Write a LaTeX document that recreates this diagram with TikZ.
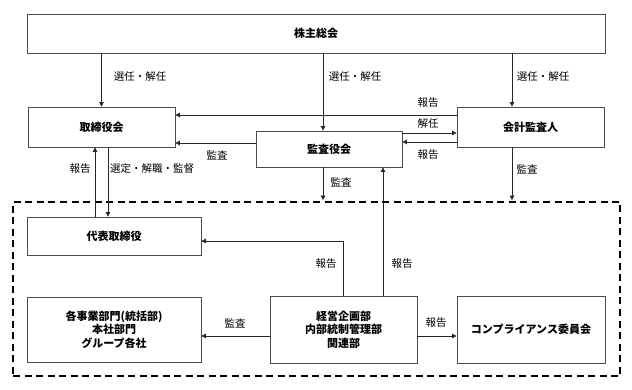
\documentclass[tikz,border=0pt]{standalone}
\usepackage{fontspec}
\setmainfont{Noto Sans CJK JP}
\usetikzlibrary{arrows.meta,calc}
\tikzset{
  box/.style={draw=black!70, line width=0.8pt, inner sep=0pt, align=center,
    font=\fontsize{11}{13.5}\selectfont\bfseries},
  lbl/.style={inner sep=0pt, font=\fontsize{10.5}{12}\selectfont},
  arr/.style={draw=black!85, line width=0.7pt, -{Triangle[length=4.5pt,width=4.5pt]}},
  grpbox/.style={draw=black, line width=1.7pt, dash pattern=on 7pt off 4.5pt, inner sep=0pt}
}
\begin{document}
\begin{tikzpicture}[x=1pt,y=-1pt]
\useasboundingbox (0,0) rectangle (632,390);
% group frame
\node[grpbox, minimum width=607pt, minimum height=174pt] (grp) at (316.5,289) {};
% boxes
\node[box, minimum width=578pt, minimum height=39pt] (top) at (316,33.5) {株主総会};
\node[box, minimum width=147pt, minimum height=40pt] (tor) at (101.5,127) {取締役会};
\node[box, minimum width=146pt, minimum height=36pt] (kan) at (329,149) {監査役会};
\node[box, minimum width=147pt, minimum height=40pt] (kai) at (530.5,127) {会計監査人};
\node[box, minimum width=174pt, minimum height=38pt] (dai) at (114,236) {代表取締役};
\node[box, minimum width=174pt, minimum height=65pt] (kaku) at (114,329.5) {各事業部門(統括部)\\本社部門\\グループ各社};
\node[box, minimum width=147pt, minimum height=67pt] (kei) at (343.5,329.5) {経営企画部\\内部統制管理部\\関連部};
\node[box, minimum width=148pt, minimum height=67pt] (comp) at (531,329.5) {コンプライアンス委員会};
% helper coordinates
\coordinate (xa) at (323,0);
\coordinate (xb) at (512,0);
\coordinate (xc) at (383,0);
\coordinate (xd) at (343,0);
\coordinate (xl1) at (95,0);
\coordinate (xl2) at (108,0);
\coordinate (ya) at (0,115);
\coordinate (yb) at (0,143);
\coordinate (yc) at (0,133);
\coordinate (yd) at (0,142);
\coordinate (ye) at (0,241);
\coordinate (yf) at (0,336);
% connectors
\draw[arr] (top.south -| tor.north) -- (tor.north);
\draw[arr] (top.south -| xa) -- (kan.north -| xa);
\draw[arr] (top.south -| xb) -- (kai.north -| xb);
\draw[arr] (kai.west |- ya) -- (tor.east |- ya);
\draw[arr] (kan.west |- yb) -- (tor.east |- yb);
\draw[arr] (kan.east |- yc) -- (kai.west |- yc);
\draw[arr] (kai.west |- yd) -- (kan.east |- yd);
\draw[arr] (dai.north -| xl1) -- (tor.south -| xl1);
\draw[arr] (tor.south -| xl2) -- (dai.north -| xl2);
\draw[arr] (kan.south -| xa) -- ($(grp.north -| xa)+(0,-1)$);
\draw[arr] (kai.south -| xb) -- ($(grp.north -| xb)+(0,-1)$);
\draw[arr] (kei.north -| xc) -- (kan.south -| xc);
\draw[arr] (kei.north -| xd) |- (dai.east |- ye);
\draw[arr] (kei.west |- yf) -- (kaku.east |- yf);
\draw[arr] (kei.east |- yf) -- (comp.west |- yf);
% labels
\node[lbl] (l1) at (140,77) {選任・解任};
\node[lbl] (l2) at (355,77) {選任・解任};
\node[lbl] (l3) at (543,77) {選任・解任};
\node[lbl] (l4) at (428,103) {報告};
\node[lbl] (l5) at (428,124) {解任};
\node[lbl] (l6) at (428,155) {報告};
\node[lbl] (l7) at (217,155) {監査};
\node[lbl] (l8) at (80,169) {報告};
\node[lbl, anchor=west] (l9) at (110,169) {選定・解職・監督};
\node[lbl] (l10) at (341,182) {監査};
\node[lbl] (l11) at (527,169) {監査};
\node[lbl] (l12) at (326,264) {報告};
\node[lbl] (l13) at (402,264) {報告};
\node[lbl] (l14) at (235,323) {監査};
\node[lbl] (l15) at (436,323) {報告};
\end{tikzpicture}
\end{document}
